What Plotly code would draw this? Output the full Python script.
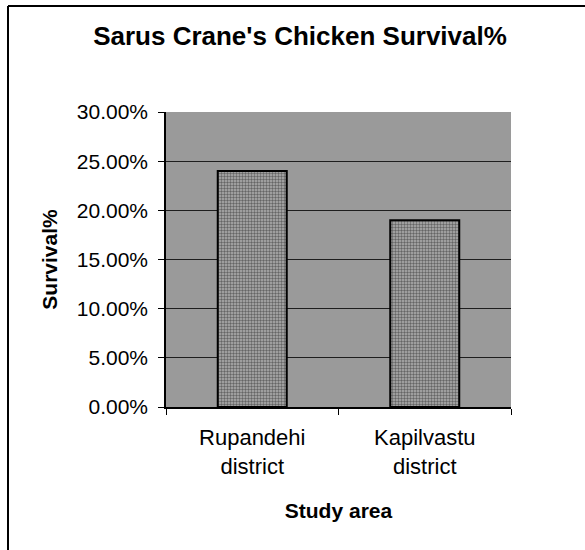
import plotly.graph_objects as go

categories = ["Rupandehi<br>district", "Kapilvastu<br>district"]
survival = [0.24, 0.19]
y_ticks = [0.0, 0.05, 0.10, 0.15, 0.20, 0.25, 0.30]

FONT = "Arial, 'Liberation Sans', sans-serif"

fig = go.Figure()
fig.add_trace(go.Bar(
    x=categories,
    y=survival,
    width=0.4,
    marker=dict(
        color="#8e8e8e",
        line=dict(color="black", width=2),
        pattern=dict(shape=".", fgcolor="#1a1a1a", bgcolor="#b0b0b0", size=3, solidity=0.5),
    ),
    hovertemplate="%{x}: %{y:.2%}<extra></extra>",
))

fig.update_layout(
    width=585,
    height=550,
    margin=dict(l=166, r=74, t=112, b=143),
    paper_bgcolor="white",
    plot_bgcolor="#9a9a9a",
    showlegend=False,
    font=dict(family=FONT, color="black", size=21),
    title=dict(
        text="<b>Sarus Crane's Chicken Survival%</b>",
        x=300 / 585, xref="container", xanchor="center",
        y=1 - 36 / 550, yref="container", yanchor="middle",
        font=dict(family=FONT, size=26, color="black"),
    ),
    xaxis=dict(
        showline=True, linecolor="black", linewidth=1.5,
        ticks="outside", ticklen=6, tickcolor="black", tickson="boundaries",
        showgrid=False,
        tickfont=dict(family=FONT, size=22),
        ticklabelstandoff=10,
        title=dict(text="<b>Study area</b>", font=dict(family=FONT, size=21), standoff=26),
    ),
    yaxis=dict(
        range=[0, 0.30],
        tickvals=y_ticks,
        tickformat=".2%",
        showline=True, linecolor="black", linewidth=1.5,
        ticks="outside", ticklen=6, tickcolor="black",
        showgrid=True, gridcolor="#1e1e1e", gridwidth=1,
        zeroline=False,
        tickfont=dict(family=FONT, size=21),
        ticklabelstandoff=6,
        title=dict(text="<b>Survival%</b>", font=dict(family=FONT, size=21), standoff=13),
    ),
    shapes=[
        dict(type="line", xref="paper", yref="paper",
             x0=(8 - 166) / 345, x1=(8 - 166) / 345, y0=(407 - 6) / 295, y1=(407 - 560) / 295,
             line=dict(color="black", width=2)),
        dict(type="line", xref="paper", yref="paper",
             x0=(8 - 166) / 345, x1=(590 - 166) / 345, y0=(407 - 6) / 295, y1=(407 - 6) / 295,
             line=dict(color="black", width=2)),
    ],
)

fig.write_html("out.html", config={"displayModeBar": False},
               post_script="document.body.style.margin='0';")
